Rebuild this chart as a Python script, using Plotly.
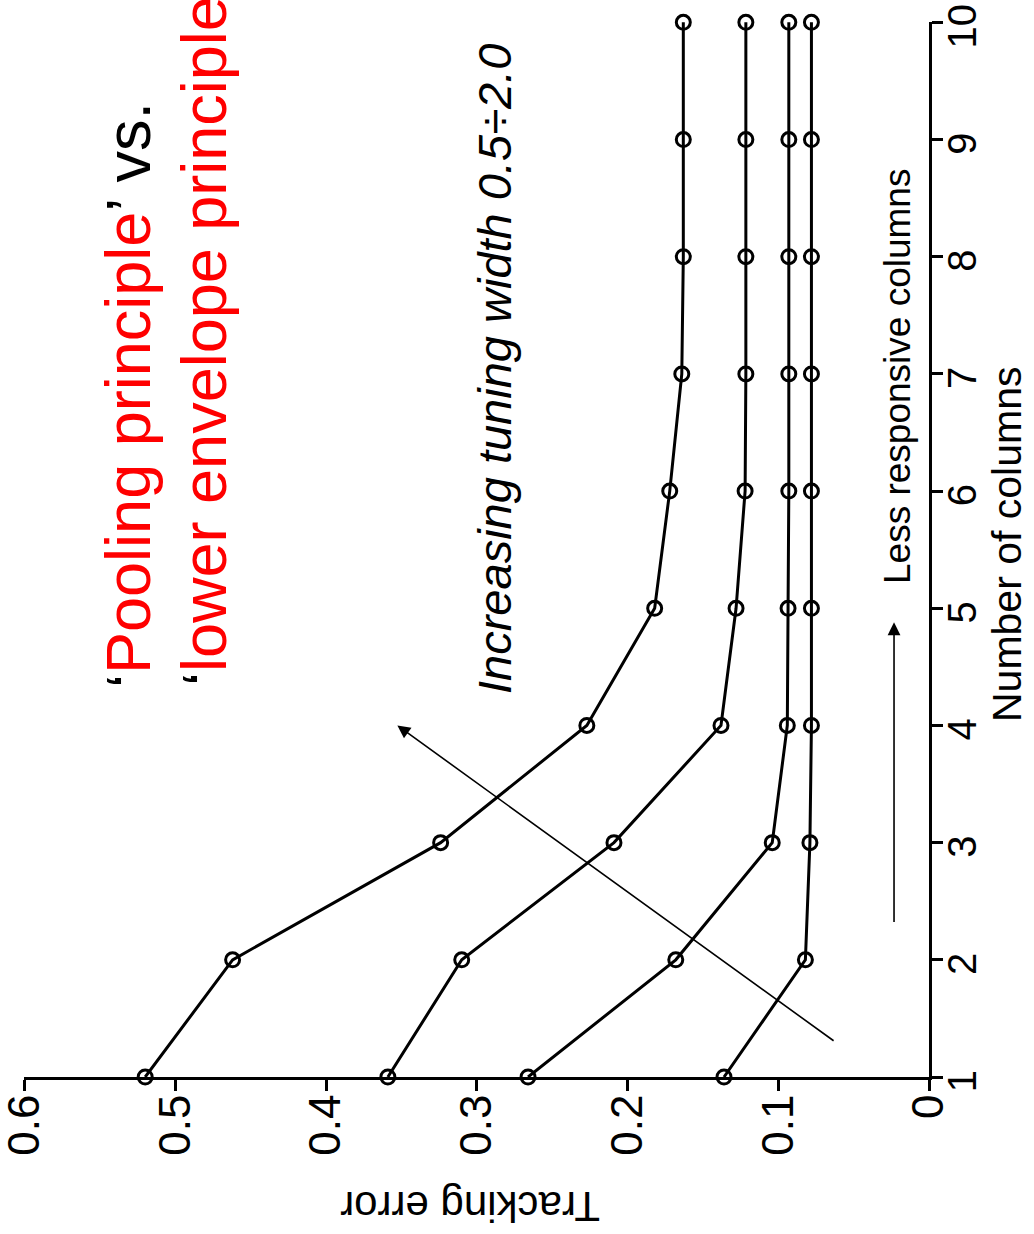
import plotly.graph_objects as go

# ---------------- data ----------------
columns = [1, 2, 3, 4, 5, 6, 7, 8, 9, 10]
err_width_a = [0.520, 0.462, 0.324, 0.227, 0.182, 0.172, 0.164, 0.163, 0.163, 0.163]
err_width_b = [0.359, 0.310, 0.209, 0.138, 0.128, 0.122, 0.1215, 0.1215, 0.1215, 0.1215]
err_width_c = [0.266, 0.168, 0.104, 0.094, 0.0935, 0.093, 0.093, 0.093, 0.093, 0.093]
err_width_d = [0.136, 0.082, 0.079, 0.078, 0.078, 0.078, 0.078, 0.078, 0.078, 0.078]
series = [err_width_a, err_width_b, err_width_c, err_width_d]

error_ticks = [0, 0.1, 0.2, 0.3, 0.4, 0.5, 0.6]
error_tick_labels = ["0", "0.1", "0.2", "0.3", "0.4", "0.5", "0.6"]
column_ticks = columns
column_tick_labels = [str(c) for c in columns]

FONT = "Liberation Sans, Arial, Helvetica, sans-serif"

# layout geometry (pixels of the 1034x1234 page)
L, R, T, B = 24, 105, 22, 157
W, H = 1034, 1234


def pxx(xp):
    return (xp - L) / (W - L - R)


def pxy(yp):
    return (H - B - yp) / (H - T - B)


fig = go.Figure()
for s in series:
    fig.add_trace(go.Scatter(
        x=s, y=columns, mode="lines+markers",
        line=dict(color="black", width=3),
        marker=dict(symbol="circle-open", size=14, color="black",
                    line=dict(color="black", width=3)),
        cliponaxis=False, showlegend=False, hoverinfo="skip"))

annotations = [
    # red title, two lines
    dict(text="‘<span style='color:#ff0000'>Pooling principle</span>’ vs.",
         xref="paper", yref="paper", x=pxx(128), y=pxy(690),
         xanchor="center", yanchor="bottom", textangle=-90, showarrow=False,
         font=dict(family=FONT, size=63, color="black")),
    dict(text="‘<span style='color:#ff0000'>lower envelope principle</span>’",
         xref="paper", yref="paper", x=pxx(204), y=pxy(688),
         xanchor="center", yanchor="bottom", textangle=-90, showarrow=False,
         font=dict(family=FONT, size=63, color="black")),
    # italic label
    dict(text="<i>Increasing tuning width 0.5÷2.0</i>",
         xref="paper", yref="paper", x=pxx(495), y=pxy(369),
         xanchor="center", yanchor="middle", textangle=-90, showarrow=False,
         font=dict(family=FONT, size=47, color="black")),
    # less responsive columns
    dict(text="Less responsive columns",
         xref="paper", yref="paper", x=pxx(897), y=pxy(377),
         xanchor="center", yanchor="middle", textangle=-90, showarrow=False,
         font=dict(family=FONT, size=37, color="black")),
    # axis titles
    dict(text="Number of columns",
         xref="paper", yref="paper", x=pxx(1007), y=pxy(545),
         xanchor="center", yanchor="middle", textangle=-90, showarrow=False,
         font=dict(family=FONT, size=41, color="black")),
    dict(text="Tracking error",
         xref="paper", yref="paper", x=pxx(470), y=pxy(1207),
         xanchor="center", yanchor="middle", textangle=180, showarrow=False,
         font=dict(family=FONT, size=42, color="black")),
    # diagonal arrow
    dict(text="", x=0.3527, y=4.0, ax=0.0623, ay=1.30,
         xref="x", yref="y", axref="x", ayref="y",
         showarrow=True, arrowhead=2, arrowsize=1.6, arrowwidth=1.6,
         arrowcolor="black", standoff=0, startstandoff=0),
    # less responsive arrow
    dict(text="", x=0.0232, y=4.88, ax=0.0232, ay=2.31,
         xref="x", yref="y", axref="x", ayref="y",
         showarrow=True, arrowhead=2, arrowsize=1.6, arrowwidth=1.6,
         arrowcolor="black", standoff=0, startstandoff=0),
]

fig.update_layout(
    width=W, height=H,
    margin=dict(l=L, r=R, t=T, b=B, pad=0, autoexpand=False),
    paper_bgcolor="white", plot_bgcolor="white",
    font=dict(family=FONT, color="black"),
    annotations=annotations,
    xaxis=dict(range=[0.6004, 0], tickvals=error_ticks, ticktext=error_tick_labels,
               tickangle=-90, ticks="outside", ticklen=11, tickwidth=3,
               tickcolor="black", showline=True, linewidth=3, linecolor="black",
               showgrid=False, zeroline=False, ticklabelstandoff=-14,
               ticklabeloverflow="allow", automargin=False,
               tickfont=dict(family=FONT, size=44, color="black")),
    yaxis=dict(range=[1, 10.003], side="right", tickvals=column_ticks,
               ticktext=column_tick_labels, tickangle=-90, ticks="outside",
               ticklen=11, tickwidth=3, tickcolor="black", showline=True,
               linewidth=3, linecolor="black", showgrid=False, zeroline=False,
               ticklabelstandoff=-15, ticklabelshift=10,
               ticklabeloverflow="allow", automargin=False,
               tickfont=dict(family=FONT, size=40, color="black")),
)

fig.write_html("out.html")
